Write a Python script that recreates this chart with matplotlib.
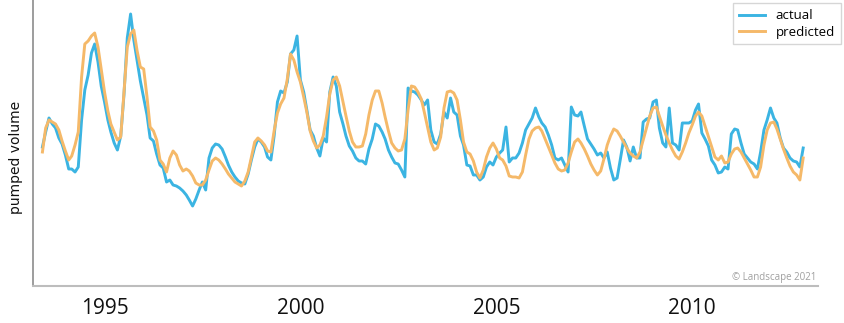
import numpy as np
import pandas as pd
import matplotlib
matplotlib.use("Agg")
import matplotlib.pyplot as plt
import matplotlib.dates as mdates

# monthly values, starting June 1993
actual = [139, 154, 168, 162, 158, 148, 142, 131, 117, 117, 114, 119, 166, 196, 211, 233,
          242, 224, 200, 184, 166, 154, 143, 136, 150, 191, 248, 272, 246, 225, 205, 188,
          171, 148, 145, 132, 121, 118, 104, 106, 101, 100, 98, 95, 91, 86, 80, 87,
          96, 104, 96, 128, 138, 142, 141, 137, 129, 121, 114, 109, 105, 103, 102, 112,
          126, 139, 147, 144, 139, 129, 126, 150, 184, 195, 193, 204, 232, 236, 250, 206,
          194, 176, 156, 150, 138, 130, 148, 144, 194, 209, 200, 174, 162, 150, 140, 135,
          128, 125, 125, 122, 137, 147, 162, 160, 154, 147, 136, 129, 123, 122, 116, 109,
          198, 195, 194, 191, 186, 181, 186, 156, 144, 142, 152, 174, 168, 188, 174, 171,
          150, 141, 121, 120, 111, 111, 106, 109, 119, 124, 121, 129, 133, 136, 159, 124,
          128, 128, 133, 143, 156, 162, 168, 178, 169, 163, 159, 151, 141, 128, 126, 128,
          121, 114, 179, 171, 170, 174, 160, 147, 142, 137, 131, 133, 128, 134, 118, 106,
          108, 126, 146, 139, 125, 139, 128, 128, 164, 167, 168, 184, 186, 158, 143, 139,
          178, 143, 141, 136, 163, 163, 163, 165, 176, 182, 153, 147, 140, 126, 121, 113,
          114, 119, 117, 152, 157, 156, 143, 132, 128, 124, 122, 117, 134, 156, 166, 178,
          168, 163, 148, 138, 134, 128, 125, 124, 119, 138]

predicted = [134, 158, 166, 164, 162, 156, 145, 135, 126, 130, 141, 154, 209, 242, 245, 250,
             253, 239, 217, 194, 175, 162, 154, 146, 149, 193, 239, 252, 256, 235, 219, 217,
             189, 159, 155, 146, 126, 122, 114, 128, 135, 131, 121, 115, 117, 115, 110, 103,
             101, 101, 106, 116, 125, 128, 126, 122, 117, 112, 108, 104, 102, 100, 105, 114,
             129, 144, 148, 145, 141, 135, 134, 155, 173, 182, 188, 207, 232, 226, 214, 204,
             189, 174, 155, 145, 138, 141, 150, 169, 192, 206, 209, 200, 184, 170, 155, 144,
             139, 139, 140, 152, 171, 186, 195, 195, 183, 169, 155, 143, 138, 135, 136, 147,
             176, 200, 199, 194, 187, 174, 159, 144, 136, 138, 149, 178, 194, 195, 193, 186,
             166, 144, 134, 132, 125, 114, 108, 116, 129, 138, 143, 137, 128, 126, 120, 110,
             109, 109, 108, 114, 131, 147, 155, 158, 159, 155, 147, 139, 131, 123, 117, 115,
             116, 123, 134, 144, 147, 143, 137, 130, 122, 116, 111, 115, 127, 141, 150, 157,
             155, 150, 144, 138, 133, 130, 128, 134, 146, 158, 170, 178, 179, 170, 160, 151,
             143, 136, 130, 127, 134, 143, 153, 161, 170, 174, 170, 160, 150, 140, 129, 126,
             130, 123, 124, 132, 137, 138, 134, 128, 122, 116, 109, 109, 119, 141, 156, 163,
             164, 157, 147, 137, 128, 120, 114, 111, 106, 128]

dates = pd.date_range("1993-06-01", periods=len(actual), freq="MS")

plt.rcParams["font.family"] = ["Open Sans", "DejaVu Sans"]

fig = plt.figure(figsize=(8.44, 3.23), dpi=100)
ax = fig.add_axes([33 / 844, 37 / 323, 785 / 844, 286 / 323])

ax.plot(dates, actual, color="#3bb4e2", lw=2.1, label="actual")
ax.plot(dates, predicted, color="#f5b969", lw=2.1, label="predicted")

ax.set_xlim(pd.Timestamp("1993-03-05"), pd.Timestamp("2013-03-19"))
ax.set_ylim(0, 286)

ax.xaxis.set_major_locator(mdates.YearLocator(5))
ax.xaxis.set_major_formatter(mdates.DateFormatter("%Y"))
ax.tick_params(axis="x", length=0, labelsize=15, pad=9, labelcolor="#111111")
ax.set_yticks([])

for side in ["top", "right"]:
    ax.spines[side].set_visible(False)
ax.spines["left"].set_color("#8c8c8c")
ax.spines["bottom"].set_color("#bdbdbd")
ax.spines["left"].set_linewidth(1.2)
ax.spines["bottom"].set_linewidth(1.5)

fig.text(16 / 844, 1 - 157 / 323, "pumped volume", rotation=90, ha="center", va="center",
         fontsize=10, family="DejaVu Sans", color="#111111")

ax.text(0.998, 0.012, "\u00a9 Landscape 2021", transform=ax.transAxes, ha="right", va="bottom",
        fontsize=7, color="#a0a0a0")

fig.legend(loc="upper right", bbox_to_anchor=(1.0, 1.0), borderaxespad=0.25, fontsize=9.5,
           frameon=True, fancybox=False, edgecolor="#cccccc", handlelength=2.0,
           borderpad=0.45, labelspacing=0.25)

fig.savefig("out.png", dpi=100)
